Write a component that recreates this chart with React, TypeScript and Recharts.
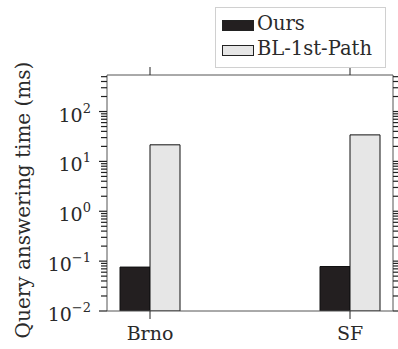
import React from 'react';
import { Bar, BarChart, XAxis, YAxis } from 'recharts';

const categories = ['Brno', 'SF'];
const oursValues = [0.076, 0.078];
const baselineValues = [21.5, 34];
const seriesNames = ['Ours', 'BL-1st-Path'];
const seriesColors = ['#231f20', '#e6e6e6'];

const yMajorExponents = [-2, -1, 0, 1, 2];
const yMinorMultipliers = [2, 3, 4, 5, 6, 7, 8, 9];
const yDomain: [number, number] = [0.01, 540];

const FONT = 'DejaVu Serif';
const FRAME = '#555';
const TICK = '#222';
const TEXT = '#2a2a2a';

// log ticks: decades plus 2..9 in between
const yTicks: number[] = [];
yMajorExponents.forEach((e) => {
  yTicks.push(Math.pow(10, e));
  yMinorMultipliers.forEach((m) => {
    const v = m * Math.pow(10, e);
    if (v <= yDomain[1]) yTicks.push(v);
  });
});

const data = categories.map((name, i) => ({
  x: i,
  name,
  ours: oursValues[i],
  bl: baselineValues[i],
}));

const isMajor = (v: number) => {
  const e = Math.floor(Math.log10(v) + 1e-9);
  return Math.abs(v / Math.pow(10, e) - 1) < 1e-6;
};

function LeftTick(props: any) {
  const { x, y, payload } = props;
  const v = payload.value;
  const major = isMajor(v);
  const exp = Math.round(Math.log10(v));
  return (
    <g>
      <line x1={x - (major ? 8 : 6)} x2={x} y1={y} y2={y} stroke={TICK} strokeWidth={1.2} />
      {major && (
        <text x={x - 16} y={y + 10} textAnchor="end" fontFamily={FONT} fontSize={19} fill={TEXT}>
          10
          <tspan dy={-9} fontSize={13}>
            {exp < 0 ? '\u2212' + Math.abs(exp) : String(exp)}
          </tspan>
        </text>
      )}
    </g>
  );
}

function RightTick(props: any) {
  const { x, y, payload } = props;
  const major = isMajor(payload.value);
  return <line x1={x} x2={x + (major ? 8 : 6)} y1={y} y2={y} stroke={TICK} strokeWidth={1.2} />;
}

function BottomTick(props: any) {
  const { x, y, payload } = props;
  return (
    <g>
      <line x1={x} x2={x} y1={y} y2={y + 8} stroke={TICK} />
      <text x={x} y={y + 29} textAnchor="middle" fontFamily={FONT} fontSize={19} fill={TEXT}>
        {categories[payload.value]}
      </text>
    </g>
  );
}

function TopTick(props: any) {
  const { x, y } = props;
  return <line x1={x} x2={x} y1={y - 8} y2={y} stroke={TICK} />;
}

function ChartLegend() {
  return (
    <div
      style={{
        position: 'absolute',
        left: 215,
        top: 7,
        width: 169,
        height: 59,
        border: '1px solid #d0d0d0',
        background: '#fff',
        fontFamily: FONT,
        fontSize: 19.5,
        color: TEXT,
      }}
    >
      {seriesNames.map((n, i) => (
        <div key={n} style={{ position: 'absolute', left: 6, top: 3 + i * 25, height: 25, display: 'flex', alignItems: 'center' }}>
          <span
            style={{
              display: 'inline-block',
              width: 30,
              height: 9,
              background: seriesColors[i],
              border: '1px solid #222',
              marginRight: 3,
              marginTop: 4,
            }}
          />
          <span>{n}</span>
        </div>
      ))}
    </div>
  );
}

export default function App() {
  return (
    <div style={{ position: 'absolute', left: 0, top: 0, width: 398, height: 349, background: '#fff' }}>
      <BarChart
        width={398}
        height={349}
        data={data}
        margin={{ top: 65, right: 0, bottom: 0, left: 0 }}
        barGap={0}
      >
        <XAxis
          type="number"
          dataKey="x"
          domain={[-0.215, 1.215]}
          ticks={[0, 1]}
          height={38}
          tickSize={0}
          tickMargin={0}
          tickLine={false}
          stroke={FRAME}
          tick={(p: any) => <BottomTick {...p} />}
          interval={0}
        />
        <XAxis
          xAxisId="top"
          orientation="top"
          type="number"
          dataKey="x"
          domain={[-0.215, 1.215]}
          ticks={[0, 1]}
          height={10}
          tickSize={0}
          tickMargin={0}
          tickLine={false}
          stroke={FRAME}
          tick={(p: any) => <TopTick {...p} />}
          interval={0}
        />
        <YAxis
          scale="log"
          type="number"
          domain={yDomain}
          allowDataOverflow
          ticks={yTicks}
          interval={0}
          width={107}
          tickSize={0}
          tickMargin={0}
          tickLine={false}
          stroke={FRAME}
          tick={(p: any) => <LeftTick {...p} />}
        />
        <YAxis
          yAxisId="right"
          orientation="right"
          scale="log"
          type="number"
          domain={yDomain}
          allowDataOverflow
          ticks={yTicks}
          interval={0}
          width={5}
          tickSize={0}
          tickMargin={0}
          tickLine={false}
          stroke={FRAME}
          tick={(p: any) => <RightTick {...p} />}
        />
        <Bar dataKey="ours" name={seriesNames[0]} fill={seriesColors[0]} stroke="#111" strokeWidth={1} barSize={30} isAnimationActive={false} />
        <Bar dataKey="bl" name={seriesNames[1]} fill={seriesColors[1]} stroke="#111" strokeWidth={1} barSize={30} isAnimationActive={false} />
        <text
          x={30}
          y={200}
          transform="rotate(-90 30 200)"
          textAnchor="middle"
          fontFamily={FONT}
          fontSize={20}
          fill={TEXT}
        >
          Query answering time (ms)
        </text>
      </BarChart>
      <ChartLegend />
    </div>
  );
}
